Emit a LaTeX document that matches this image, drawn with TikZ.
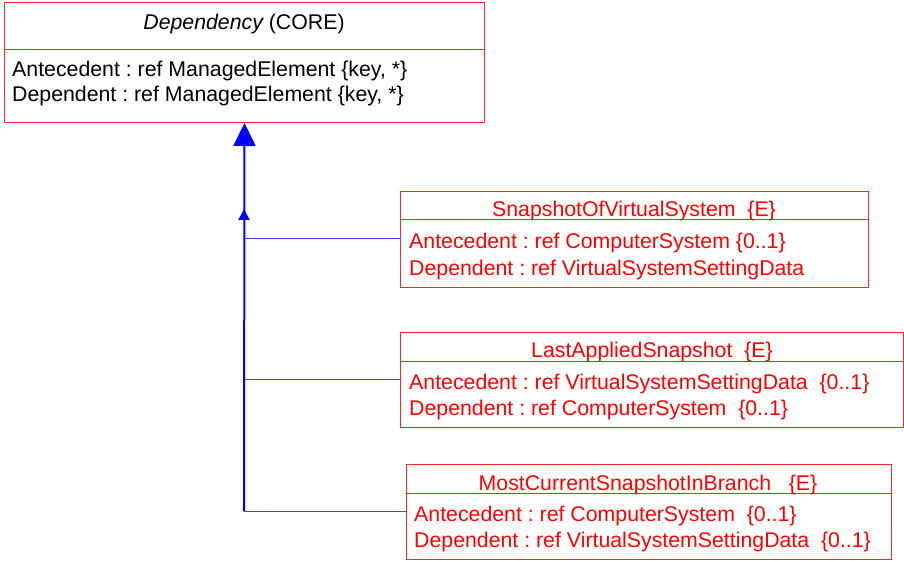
\documentclass[tikz,border=0pt]{standalone}
\usepackage{fontspec}
\setmainfont{Liberation Sans}
\usetikzlibrary{arrows.meta}
\frenchspacing
\tikzset{
  umlbox/.style={draw=red!85, line width=1pt, minimum width=#1, inner sep=0pt, anchor=north west},
  txt/.style={anchor=base west, inner sep=0pt, font=\fontsize{21.3}{24}\selectfont},
  ttl/.style={anchor=base, inner sep=0pt, font=\fontsize{21.3}{24}\selectfont},
  sep/.style={draw=red!85, line width=1pt},
  vline/.style={draw=blue, line width=2pt},
  hline/.style={draw=blue!75, line width=1pt},
}
\begin{document}
\begin{tikzpicture}[x=1pt,y=-1pt]
\useasboundingbox (0,0) rectangle (904,561);
% Dependency box
\node[umlbox=480pt, minimum height=120pt] (dep) at (4,2) {};
\draw[sep] (4,50) -- (484,50);
\node[ttl] (depT) at (244,30) {\itshape Dependency\upshape{} (CORE)};
\node[txt] (depA) at (12,77) {Antecedent : ref ManagedElement \{key, *\}};
\node[txt] (depD) at (12,102) {Dependent : ref ManagedElement \{key, *\}};
% Snapshot box
\node[umlbox=468pt, minimum height=96pt] (snap) at (400,191) {};
\draw[sep] (400,220) -- (868,220);
\node[ttl, text=red] (snapT) at (634,217) {SnapshotOfVirtualSystem\ \ \{E\}};
\node[txt, text=red] (snapA) at (409,249) {Antecedent : ref ComputerSystem \{0..1\}};
\node[txt, text=red] (snapD) at (409,275) {Dependent : ref VirtualSystemSettingData};
% LastApplied box
\node[umlbox=503pt, minimum height=95pt] (last) at (400,332) {};
\draw[sep] (400,361) -- (903,361);
\node[ttl, text=red] (lastT) at (652,357) {LastAppliedSnapshot\ \ \{E\}};
\node[txt, text=red] (lastA) at (409,389) {Antecedent : ref VirtualSystemSettingData\ \ \{0..1\}};
\node[txt, text=red] (lastD) at (409,415) {Dependent : ref ComputerSystem\ \ \{0..1\}};
% MostCurrent box
\node[umlbox=485pt, minimum height=95pt] (most) at (406,464) {};
\draw[sep] (406,493) -- (891,493);
\node[ttl, text=red] (mostT) at (648,490) {MostCurrentSnapshotInBranch\ \ \ \{E\}};
\node[txt, text=red] (mostA) at (414,521) {Antecedent : ref ComputerSystem\ \ \{0..1\}};
\node[txt, text=red] (mostD) at (414,547) {Dependent : ref VirtualSystemSettingData\ \ \{0..1\}};
% connectors
\coordinate (j1) at (244,239);
\coordinate (j2) at (244,379);
\coordinate (j3) at (244,511);
\coordinate (mid) at (244,209);
\coordinate (midb) at (244,215);
\draw[hline] (snap.west |- j1) -- (j1);
\draw[hline] (last.west |- j2) -- (j2);
\draw[hline] (most.west |- j3) -- (j3);
\draw[vline, -{Triangle[length=23pt,width=22pt]}] (j3) -- (dep.south);
\draw[vline, -{Triangle[length=11pt,width=11pt]}] (midb) -- (mid);
\end{tikzpicture}
\end{document}
